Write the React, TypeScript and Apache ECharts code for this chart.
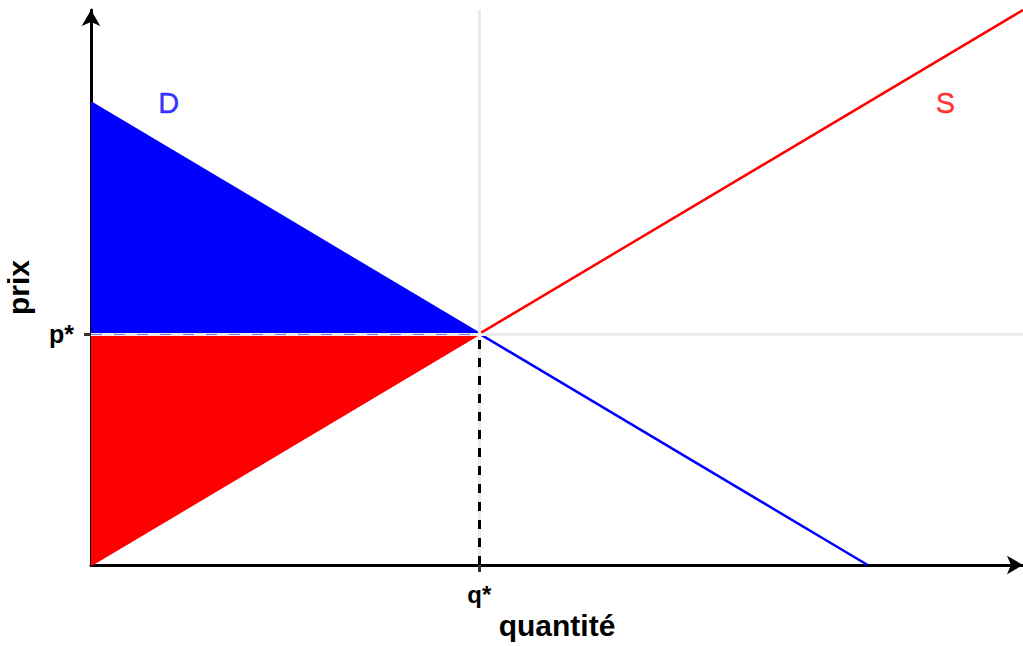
import React, { useEffect, useRef } from "react";
import * as echarts from "echarts";

const qStar = 5;
const pStar = 5;
const xMax = 12;
const yMax = 12;
const demand = [[0, 10], [10, 0]];
const supply = [[0, 0], [12, 12]];
const consumerSurplus = [[0, 10], [0, 5], [5, 5]];
const producerSurplus = [[0, 5], [0, 0], [5, 5]];
const curveLabels = [
  { name: "D", pos: [1, 10], color: "#0000ff" },
  { name: "S", pos: [11, 10], color: "#ff0000" },
];
const xTickLabel = "q*";
const yTickLabel = "p*";
const xTitle = "quantité";
const yTitle = "prix";

const FONT = "Liberation Sans, Arial, sans-serif";

export default function App() {
  const ref = useRef<HTMLDivElement>(null);
  useEffect(() => {
    if (!ref.current) return;
    const chart = echarts.init(ref.current, null, { renderer: "svg" });
    const polys = [
      { pts: consumerSurplus, color: "#0000ff" },
      { pts: producerSurplus, color: "#ff0000" },
    ];
    chart.setOption({
      animation: false,
      backgroundColor: "#ffffff",
      grid: {
        left: 91,
        top: 10,
        width: 932,
        height: 555,
        containLabel: false,
        outerBoundsMode: "none",
      },
      xAxis: {
        type: "value",
        min: 0,
        max: xMax,
        name: xTitle,
        nameLocation: "middle",
        nameGap: 42,
        nameTextStyle: { fontFamily: FONT, fontWeight: "bold", fontSize: 30, color: "#000" },
        axisLine: {
          show: true,
          onZero: false,
          symbol: ["none", "arrow"],
          symbolSize: [14, 16],
          lineStyle: { color: "#000", width: 3 },
        },
        axisTick: { show: true, customValues: [qStar], length: 7, lineStyle: { color: "#333", width: 3 } },
        axisLabel: {
          show: true,
          customValues: [qStar],
          formatter: () => xTickLabel,
          margin: 17,
          fontFamily: FONT,
          fontWeight: "bold",
          fontSize: 24,
          color: "#000",
        },
        splitLine: { show: false },
      },
      yAxis: {
        type: "value",
        min: 0,
        max: yMax,
        name: yTitle,
        nameLocation: "middle",
        nameGap: 58,
        nameRotate: 90,
        nameTextStyle: { fontFamily: FONT, fontWeight: "bold", fontSize: 30, color: "#000" },
        axisLine: {
          show: true,
          onZero: false,
          symbol: ["none", "arrow"],
          symbolSize: [14, 16],
          lineStyle: { color: "#000", width: 3 },
        },
        axisTick: { show: true, customValues: [pStar], length: 7, lineStyle: { color: "#333", width: 3 } },
        axisLabel: {
          show: true,
          customValues: [pStar],
          formatter: () => yTickLabel,
          margin: 17,
          fontFamily: FONT,
          fontWeight: "bold",
          fontSize: 25,
          color: "#000",
        },
        splitLine: { show: false },
      },
      series: [
        {
          type: "line",
          data: [],
          silent: true,
          z: 1,
          markLine: {
            symbol: "none",
            silent: true,
            label: { show: false },
            lineStyle: { color: "#ebebeb", width: 3, type: "solid" },
            data: [{ xAxis: qStar }, { yAxis: pStar }],
          },
        },
        {
          type: "custom",
          z: 2,
          data: polys.map((_, i) => i),
          renderItem: (params: any, api: any) => {
            const p = polys[params.dataIndex];
            return {
              type: "polygon",
              shape: { points: p.pts.map((pt) => api.coord(pt)) },
              style: { fill: p.color, stroke: "none" },
            };
          },
          silent: true,
        },
        {
          type: "line",
          data: [],
          z: 3,
          silent: true,
          markLine: {
            symbol: "none",
            silent: true,
            label: { show: false },
            data: [
              [
                { coord: [qStar, 0], lineStyle: { color: "#000", width: 3, type: [9, 9] } },
                { coord: [qStar, pStar] },
              ],
              [
                { coord: [0, pStar], lineStyle: { color: "#8c6ce0", width: 1.2, type: [11, 12] } },
                { coord: [qStar, pStar] },
              ],
            ],
          },
        },
        {
          type: "line",
          data: demand,
          showSymbol: false,
          z: 4,
          lineStyle: { color: "#0000ff", width: 2.5 },
          silent: true,
        },
        {
          type: "line",
          data: supply,
          showSymbol: false,
          z: 4,
          lineStyle: { color: "#ff0000", width: 2.5 },
          silent: true,
        },
        ...curveLabels.map((c) => ({
          type: "scatter",
          data: [c.pos],
          symbolSize: 1,
          itemStyle: { color: "rgba(0,0,0,0)" },
          z: 5,
          silent: true,
          label: {
            show: true,
            position: "inside",
            formatter: c.name,
            color: c.color,
            textBorderColor: c.color,
            textBorderWidth: 0.4,
            fontFamily: FONT,
            fontSize: 29,
          },
        })),
      ],
    });
    return () => chart.dispose();
  }, []);
  return (
    <div
      ref={ref}
      style={{ position: "absolute", left: 0, top: 0, width: 1023, height: 646 }}
    />
  );
}
